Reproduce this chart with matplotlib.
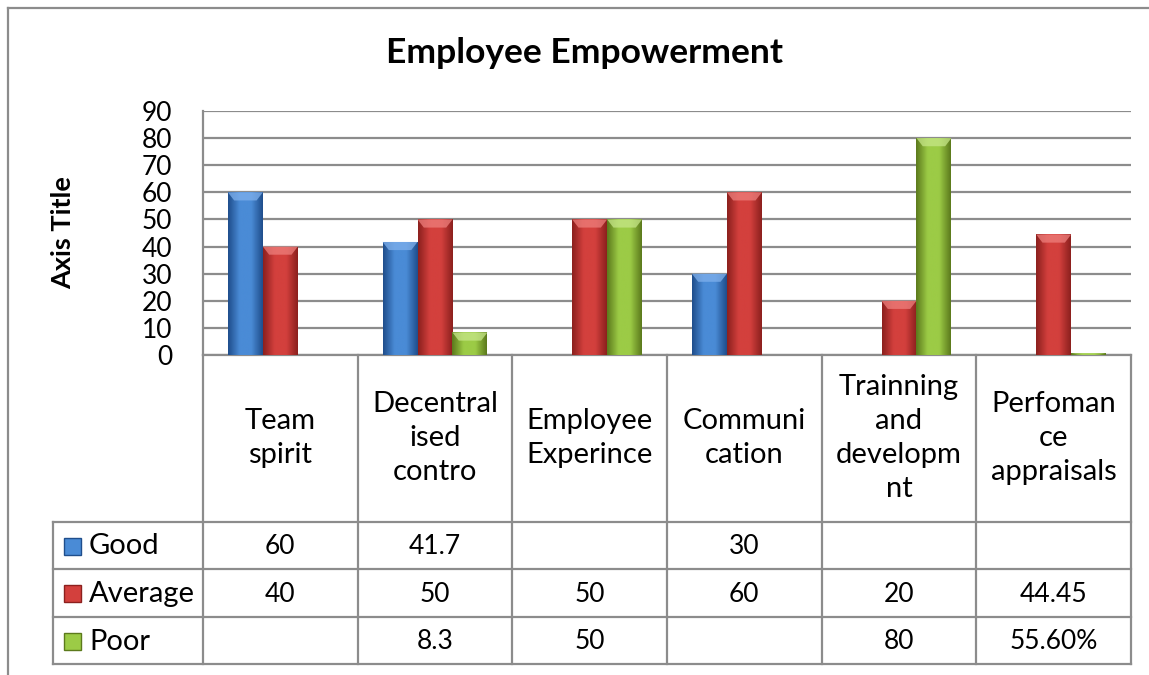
import numpy as np
import matplotlib.pyplot as plt
from matplotlib.colors import LinearSegmentedColormap
from matplotlib.patches import Polygon

# employee empowerment survey, % of responses per factor
categories = ['Team\nspirit', 'Decentral\nised\ncontro', 'Employee\nExperince',
              'Communi\ncation', 'Trainning\nand\ndevelopm\nnt', 'Perfoman\nce\nappraisals']
series = ['Good', 'Average', 'Poor']
good = [60, 41.7, np.nan, 30, np.nan, np.nan]
average = [40, 50, 50, 60, 20, 44.45]
poor = [np.nan, 8.3, 50, np.nan, 80, 0.556]
# cells that are shown as percentages in the table
pct_cells = [(2, 5)]

values = [good, average, poor]
# edge / centre / highlight shades for each series
shades = [('#1f4e8c', '#4a8bd6', '#7fb0ec'),
          ('#8c201e', '#d3403d', '#ee7f7c'),
          ('#5c7a1c', '#9ccb46', '#c6e688')]

W, H = 1149, 675
FONT = 'Lato'
plt.rcParams['font.family'] = [FONT, 'DejaVu Sans']

fig = plt.figure(figsize=(W / 100, H / 100), dpi=100)

# pixel-space overlay for the frame and the data table
ov = fig.add_axes([0, 0, 1, 1], zorder=0)
ov.set_xlim(0, W)
ov.set_ylim(H, 0)
ov.axis('off')

px_l, px_r, px_t, px_b = 203, 1131, 111, 355
ax = fig.add_axes([px_l / W, 1 - px_b / H, (px_r - px_l) / W, (px_b - px_t) / H], zorder=1)
ax.patch.set_alpha(0)

n = len(categories)
bw = 0.226
x = np.arange(n)
for i, (vals, sh) in enumerate(zip(values, shades)):
    cmap = LinearSegmentedColormap.from_list(series[i], [sh[0], sh[1], sh[1], sh[0]])
    bars = ax.bar(x + (i - 1) * bw, np.nan_to_num(vals), width=bw, color=sh[1],
                  edgecolor='none', zorder=3)
    for b, v in zip(bars, vals):
        if np.isnan(v):
            continue
        x0, w, h = b.get_x(), b.get_width(), b.get_height()
        img = ax.imshow(np.linspace(0, 1, 64).reshape(1, -1), cmap=cmap, aspect='auto',
                        extent=(x0, x0 + w, 0, h), zorder=4, interpolation='bicubic')
        img.set_clip_path(b)
        dy = min(3.0, h / 2)
        dx = 0.18 * w
        ax.add_patch(Polygon([(x0, h), (x0 + w, h), (x0 + w - dx, h - dy), (x0 + dx, h - dy)],
                             closed=True, facecolor=sh[2], edgecolor='none', alpha=0.75, zorder=5))

ax.set_xlim(-0.5, n - 0.5)
ax.set_ylim(0, 90)
ax.set_yticks(range(0, 91, 10))
ax.set_xticks([])
ax.tick_params(axis='y', length=0, pad=22, labelsize=19)
ax.yaxis.grid(True, color='#8c8c8c', lw=1.6, zorder=0)
ax.set_axisbelow(True)
for s in ['top', 'right', 'bottom']:
    ax.spines[s].set_visible(False)
ax.spines['left'].set_color('#8c8c8c')
ax.spines['left'].set_linewidth(1.6)

# outer chart frame
lc = '#8c8c8c'
ov.plot([8, 8], [8, H], color=lc, lw=1.6)
ov.plot([8, W], [8, 8], color=lc, lw=1.6)

ov.text(584, 53, 'Employee Empowerment', ha='center', va='center', fontsize=25.5, fontweight='bold')
ov.text(63, 233, 'Axis Title', ha='center', va='center', rotation=90, fontsize=19.5, fontweight='bold')

# data table under the plot
col_w = (px_r - px_l) / n
cols = [px_l + k * col_w for k in range(n + 1)]
rows = [522, 569, 617, 664]
leg_l = 53
ov.plot([px_l, px_r], [px_b, px_b], color=lc, lw=1.6)
for cx in cols:
    ov.plot([cx, cx], [px_b, rows[-1]], color=lc, lw=1.6)
for ry in rows:
    ov.plot([leg_l, px_r], [ry, ry], color=lc, lw=1.6)
ov.plot([leg_l, leg_l], [rows[0], rows[-1]], color=lc, lw=1.6)

for k, cat in enumerate(categories):
    ov.text(cols[k] + col_w / 2, 438, cat, ha='center', va='center',
            fontsize=21, linespacing=1.38)

for i, (name, vals, sh) in enumerate(zip(series, values, shades)):
    yc = (rows[i] + rows[i + 1]) / 2
    ov.add_patch(plt.Rectangle((64, yc - 8), 17, 17, facecolor=sh[1], edgecolor=sh[0], lw=1))
    ov.text(89, yc + 1, name, ha='left', va='center', fontsize=21)
    for k, v in enumerate(vals):
        if np.isnan(v):
            continue
        s = f'{v * 100:.2f}%' if (i, k) in pct_cells else f'{v:g}'
        ov.text(cols[k] + col_w / 2, yc + 1, s, ha='center', va='center', fontsize=19)

fig.savefig('out.png', dpi=100)
